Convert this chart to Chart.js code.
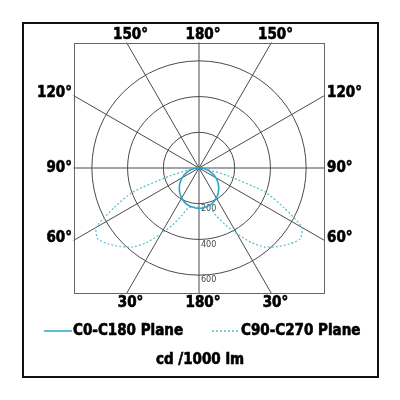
<!DOCTYPE html>
<html>
<head>
<meta charset="utf-8">
<script src="https://cdn.jsdelivr.net/npm/chart.js@4"></script>
<style>
  html, body { margin: 0; padding: 0; background: #fff; }
  #wrap { width: 400px; height: 400px; }
</style>
</head>
<body>
<div id="wrap"><canvas id="c" width="400" height="400"></canvas></div>
<script>
// gamma angles (deg from nadir), 0..90 in 5 deg steps; above 90 deg the intensity is 0
const gammas = [0, 5, 10, 15, 20, 25, 30, 35, 40, 45, 50, 55, 60, 65, 70, 75, 80, 85, 90];
// cd / 1000 lm
const planeC0 = [226, 225, 222, 218, 212, 204, 194, 183, 170, 156, 141, 125, 108, 91, 74, 56, 38, 20, 4];
const planeC90 = [218, 220, 224, 228, 285, 352, 425, 510, 578, 622, 662, 692, 665, 525, 395, 165, 50, 15, 0];

const seriesNames = ['C0-C180 Plane', 'C90-C270 Plane'];
const ringTicks = [200, 400, 600];
const topLabels = ['150°', '180°', '150°'];
const sideLabels = ['120°', '90°', '60°'];
const bottomLabels = ['30°', '180°', '30°'];
const unitLabel = 'cd /1000 lm';

const SOLID = '#2aa5c8';
const DASHED = '#52c0c8';
const GRID = '#4a4a4a';
const FONT = '"DejaVu Sans Condensed", "Liberation Sans Narrow", sans-serif';

// full turn of labels, 0 at the bottom, going round both halves of the plane
const ringAngles = [];
for (let a = 0; a < 360; a += 5) ringAngles.push(a);

function mirror(values) {
  return ringAngles.map(a => {
    const g = a <= 180 ? a : 360 - a;
    const i = gammas.indexOf(g);
    return i >= 0 ? values[i] : 0;
  });
}

// heavy text: fill plus a thin stroke of the same colour
function boldText(ctx, s, x, y) {
  ctx.fillText(s, x, y);
  ctx.strokeText(s, x, y);
}

const gridPlugin = {
  id: 'photoGrid',
  beforeDatasetsDraw(chart) {
    const { ctx, chartArea } = chart;
    const r = chart.scales.r;
    const cx = r.xCenter, cy = r.yCenter;
    const half = (chartArea.right - chartArea.left) / 2;
    ctx.save();
    ctx.strokeStyle = GRID;
    ctx.lineWidth = 1;
    // spokes every 30 deg out to the frame
    for (let a = 0; a < 360; a += 30) {
      const rad = a * Math.PI / 180;
      const dx = -Math.sin(rad), dy = Math.cos(rad);
      const t = Math.min(Math.abs(dx) > 1e-6 ? half / Math.abs(dx) : Infinity,
                         Math.abs(dy) > 1e-6 ? half / Math.abs(dy) : Infinity);
      ctx.beginPath();
      ctx.moveTo(cx, cy);
      ctx.lineTo(cx + dx * t, cy + dy * t);
      ctx.stroke();
    }
    // inner frame
    ctx.strokeStyle = '#666';
    ctx.strokeRect(chartArea.left + 0.5, chartArea.top + 0.5,
                   chartArea.right - chartArea.left - 1, chartArea.bottom - chartArea.top - 1);
    // ring values below each circle
    ctx.fillStyle = '#444';
    ctx.font = '8px "DejaVu Sans", sans-serif';
    ctx.textAlign = 'left';
    ctx.textBaseline = 'middle';
    ringTicks.forEach(v => {
      const d = r.getDistanceFromCenterForValue(v);
      ctx.fillText(String(v), cx + 2, cy + d + 5);
    });
    ctx.restore();
  },
  afterDraw(chart) {
    const { ctx, chartArea } = chart;
    const r = chart.scales.r;
    const cx = r.xCenter, cy = r.yCenter;
    const half = (chartArea.right - chartArea.left) / 2;
    const off = half * Math.tan(Math.PI / 6);
    ctx.save();
    ctx.fillStyle = '#000';
    ctx.strokeStyle = '#000';
    ctx.lineWidth = 0.6;
    ctx.font = 'bold 15px ' + FONT;
    ctx.textBaseline = 'middle';
    ctx.textAlign = 'center';
    [-off, 0, off].forEach((x, i) => {
      boldText(ctx, topLabels[i], cx + x + 4, chartArea.top - 8);
      boldText(ctx, bottomLabels[i], cx + x + 4, chartArea.bottom + 9);
    });
    [-off - 2, 0, off - 2].forEach((y, i) => {
      ctx.textAlign = 'right';
      boldText(ctx, sideLabels[i], chartArea.left - 2, cy + y);
      ctx.textAlign = 'left';
      boldText(ctx, sideLabels[i], chartArea.right + 2, cy + y);
    });
    ctx.textAlign = 'left';
    boldText(ctx, seriesNames[0], 73, 331);
    boldText(ctx, seriesNames[1], 241, 331);
    ctx.textAlign = 'center';
    boldText(ctx, unitLabel, 200, 360);
    // legend samples
    ctx.lineWidth = 1.5;
    ctx.strokeStyle = SOLID;
    ctx.beginPath(); ctx.moveTo(44, 331); ctx.lineTo(72, 331); ctx.stroke();
    ctx.strokeStyle = DASHED;
    ctx.setLineDash([2, 2]);
    ctx.beginPath(); ctx.moveTo(212, 331); ctx.lineTo(240, 331); ctx.stroke();
    ctx.setLineDash([]);
    // outer box
    ctx.strokeStyle = '#111';
    ctx.lineWidth = 2;
    ctx.strokeRect(23, 23, 355, 354);
    ctx.restore();
  }
};

new Chart(document.getElementById('c'), {
  type: 'radar',
  data: {
    labels: ringAngles.map(a => a + '°'),
    datasets: [
      {
        label: seriesNames[0],
        data: mirror(planeC0),
        borderColor: SOLID,
        borderWidth: 1.6,
        fill: false,
        pointRadius: 0,
        tension: 0.2
      },
      {
        label: seriesNames[1],
        data: mirror(planeC90),
        borderColor: DASHED,
        borderWidth: 1.2,
        borderDash: [2, 2],
        fill: false,
        pointRadius: 0,
        tension: 0.2
      }
    ]
  },
  options: {
    responsive: false,
    animation: false,
    layout: { padding: { left: 74, right: 75, top: 43, bottom: 106 } },
    plugins: { legend: { display: false }, tooltip: { enabled: false } },
    scales: {
      r: {
        min: 0,
        max: 700,
        startAngle: 180,
        ticks: { display: false, stepSize: 200 },
        grid: {
          circular: true,
          lineWidth: 1,
          color: ctx => ringTicks.includes(ctx.tick.value) ? GRID : 'rgba(0,0,0,0)'
        },
        angleLines: { display: false },
        pointLabels: { display: false }
      }
    }
  },
  plugins: [gridPlugin]
});
</script>
</body>
</html>
